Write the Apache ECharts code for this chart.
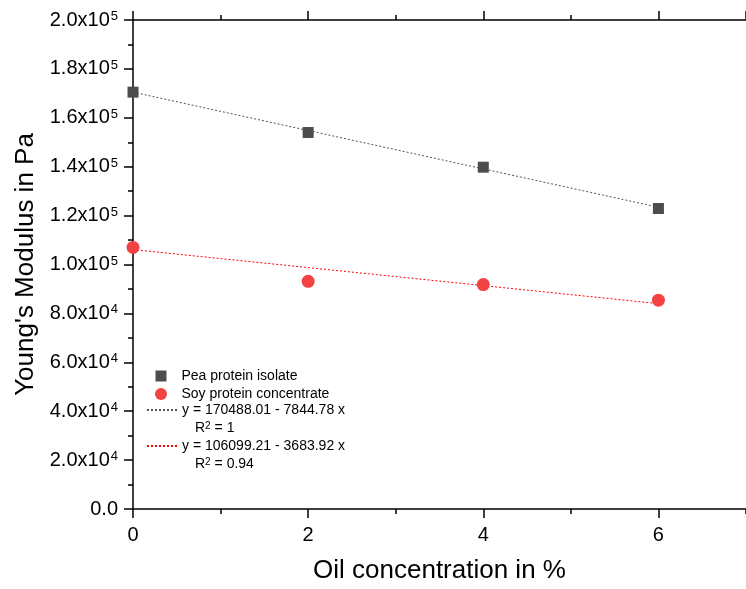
<!DOCTYPE html>
<html>
<head>
<meta charset="utf-8">
<script src="https://cdn.jsdelivr.net/npm/echarts@6/dist/echarts.min.js"></script>
<style>
  html, body { margin: 0; padding: 0; background: #fff; }
  #chart { width: 746px; height: 589px; }
</style>
</head>
<body>
<div id="chart"></div>
<script>
// Oil concentration (%) and measured Young's modulus (Pa)
const oilConcentration = [0, 2, 4, 6];
const peaModulus = [170500, 154000, 139800, 122900];
const soyModulus = [107000, 93100, 91800, 85400];

// Linear fits: y = intercept + slope * x
const seriesNames = ['Pea protein isolate', 'Soy protein concentrate'];
const fitIntercept = [170488.01, 106099.21];
const fitSlope = [-7844.78, -3683.92];
const fitR2 = ['1', '0.94'];
const fitRange = [0, 6];

const FONT = '"Liberation Sans", Arial, sans-serif';

function fitLabel(i) {
  return 'y = ' + fitIntercept[i].toFixed(2) + ' - ' + Math.abs(fitSlope[i]).toFixed(2) + ' x';
}
function fitLine(i) {
  return fitRange.map(x => [x, fitIntercept[i] + fitSlope[i] * x]);
}
function sciLabel(v) {
  if (v === 0) return '0.0';
  const e = Math.floor(Math.log10(v) + 1e-9);
  const m = (v / Math.pow(10, e)).toFixed(1);
  return m + 'x10{sup|' + e + '}';
}

const fitNames = [fitLabel(0), fitLabel(1)];
const fitColors = ['#555555', '#ff0000'];
const axisColor = '#000';
const grid = { left: 133, top: 20, right: -4, bottom: 73 };
const legendText = { fontFamily: FONT, fontSize: 14, color: '#000' };

function xAxisBase(position, tickLen, interval, showLabel, showLine) {
  return {
    type: 'value', position: position, min: 0, max: 7, interval: interval,
    axisLine: { show: showLine, onZero: false, lineStyle: { color: axisColor, width: 1.5 } },
    axisTick: { show: true, inside: false, length: tickLen, lineStyle: { color: axisColor, width: 1.5 } },
    axisLabel: { show: showLabel },
    splitLine: { show: false }
  };
}

const xMain = xAxisBase('bottom', 9, 2, true, true);
Object.assign(xMain, {
  name: 'Oil concentration in %',
  nameLocation: 'middle',
  nameGap: 49,
  nameTextStyle: { fontFamily: FONT, fontSize: 26, color: '#000' },
  axisLabel: { show: true, margin: 16, fontFamily: FONT, fontSize: 20, color: '#000', showMaxLabel: false }
});

const chart = echarts.init(document.getElementById('chart'));
chart.setOption({
  animation: false,
  backgroundColor: '#fff',
  grid: grid,
  xAxis: [
    xMain,
    xAxisBase('bottom', 5, 1, false, false),
    xAxisBase('top', 9, 2, false, true),
    xAxisBase('top', 5, 1, false, false)
  ],
  yAxis: {
    type: 'value', min: 0, max: 200000, interval: 20000,
    name: "Young's Modulus in Pa",
    nameLocation: 'middle',
    nameGap: 90,
    nameTextStyle: { fontFamily: FONT, fontSize: 26, color: '#000' },
    axisLine: { show: true, lineStyle: { color: axisColor, width: 1.5 } },
    axisTick: { show: true, length: 9, lineStyle: { color: axisColor, width: 1.5 } },
    minorTick: { show: true, splitNumber: 2, length: 5, lineStyle: { color: axisColor, width: 1.5 } },
    axisLabel: {
      margin: 15, fontFamily: FONT, fontSize: 20, color: '#000',
      formatter: sciLabel,
      rich: {
        sup: { fontFamily: FONT, fontSize: 13, color: '#000', verticalAlign: 'top', lineHeight: 13, padding: [0, 0, 10, 1] }
      }
    },
    splitLine: { show: false }
  },
  legend: [
    { data: [{ name: seriesNames[0], icon: 'rect' }], left: 155.5, top: 369, padding: 0,
      itemWidth: 11, itemHeight: 11, itemGap: 0,
      textStyle: Object.assign({ padding: [0, 0, 0, 10] }, legendText) },
    { data: [{ name: seriesNames[1], icon: 'circle' }], left: 155, top: 387, padding: 0,
      itemWidth: 12, itemHeight: 12, itemGap: 0,
      textStyle: Object.assign({ padding: [0, 0, 0, 9.5] }, legendText) },
    { data: [fitNames[0]], left: 146, top: 403, padding: 0, itemWidth: 30, itemHeight: 14, itemGap: 0,
      itemStyle: { opacity: 0 }, textStyle: legendText },
    { data: [fitNames[1]], left: 146, top: 439, padding: 0, itemWidth: 30, itemHeight: 14, itemGap: 0,
      itemStyle: { opacity: 0 }, textStyle: legendText }
  ],
  graphic: [0, 1].map((i) => ({
    type: 'text',
    left: 195,
    top: i === 0 ? 421 : 457,
    style: {
      text: 'R{s|2} = ' + fitR2[i],
      fontFamily: FONT, fontSize: 14, fill: '#000',
      rich: { s: { fontFamily: FONT, fontSize: 10, verticalAlign: 'top', lineHeight: 10, fill: '#000' } }
    }
  })),
  series: [
    {
      name: fitNames[0], type: 'line', xAxisIndex: 0, data: fitLine(0),
      symbol: 'none', z: 2,
      lineStyle: { color: fitColors[0], width: 1, type: [2, 2] },
      itemStyle: { color: fitColors[0] }
    },
    {
      name: fitNames[1], type: 'line', xAxisIndex: 0, data: fitLine(1),
      symbol: 'none', z: 2,
      lineStyle: { color: fitColors[1], width: 1, type: [2, 2] },
      itemStyle: { color: fitColors[1] }
    },
    {
      name: seriesNames[0], type: 'scatter', xAxisIndex: 0,
      data: oilConcentration.map((x, i) => [x, peaModulus[i]]),
      symbol: 'rect', symbolSize: 11, z: 3,
      itemStyle: { color: '#4d4d4d', opacity: 1 }
    },
    {
      name: seriesNames[1], type: 'scatter', xAxisIndex: 0,
      data: oilConcentration.map((x, i) => [x, soyModulus[i]]),
      symbol: 'circle', symbolSize: 13, z: 3,
      itemStyle: { color: '#f24242', opacity: 1 }
    }
  ]
});
</script>
</body>
</html>
